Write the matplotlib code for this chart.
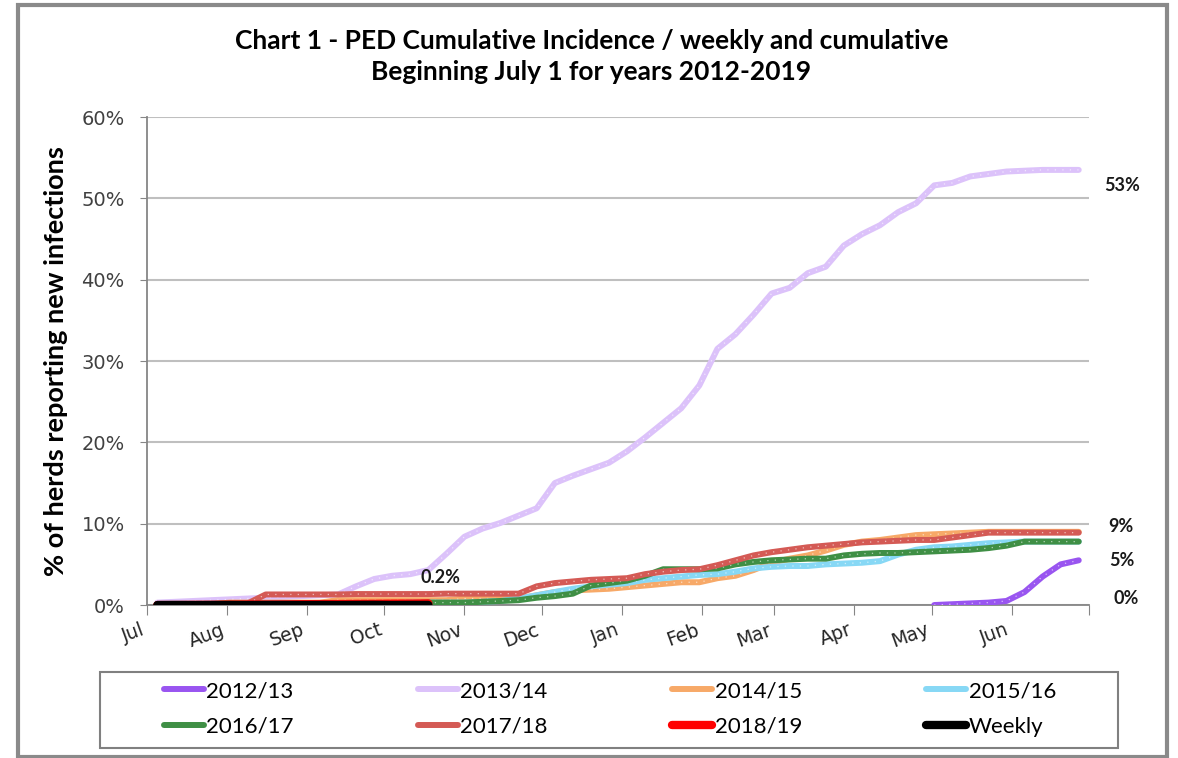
import numpy as np
import matplotlib.pyplot as plt
from matplotlib.patches import Rectangle
from matplotlib.ticker import FuncFormatter

plt.rcParams['font.family'] = ['Lato', 'DejaVu Sans']

nan = np.nan

# x axis: days since July 1, one point per week
weeks = np.arange(52)
days = 4 + 7 * weeks

month_labels = ['Jul', 'Aug', 'Sep', 'Oct', 'Nov', 'Dec',
                'Jan', 'Feb', 'Mar', 'Apr', 'May', 'Jun']
month_days = [0, 31, 62, 92, 123, 153, 184, 215, 243, 274, 304, 335]
year_days = 365

# % of herds, cumulative
pct_2012_13 = [nan] * 43 + [0.0, 0.1, 0.2, 0.3, 0.5, 1.6, 3.5, 5.0, 5.5]
pct_2013_14 = [0.3, 0.4, 0.5, 0.6, 0.7, 0.8, 0.9, 1.0, 1.1, 1.2,
               1.3, 2.3, 3.2, 3.6, 3.8, 4.3, 6.3, 8.4, 9.4, 10.1,
               11.0, 11.9, 15.0, 15.9, 16.7, 17.5, 18.9, 20.6, 22.4, 24.2,
               27.0, 31.5, 33.3, 35.7, 38.3, 39.0, 40.8, 41.6, 44.2, 45.6,
               46.7, 48.3, 49.4, 51.6, 51.9, 52.7, 53.0, 53.3, 53.4, 53.5,
               53.5, 53.5]
pct_2014_15 = [0.1, 0.1, 0.1, 0.1, 0.3, 0.3, 0.3, 0.3, 0.3, 0.3,
               0.6, 0.6, 0.6, 0.6, 0.6, 0.6, 0.6, 0.8, 0.8, 0.8,
               0.8, 1.2, 1.6, 1.8, 1.9, 2.0, 2.2, 2.4, 2.6, 2.8,
               2.8, 3.3, 3.6, 4.3, 5.2, 5.7, 6.1, 6.7, 7.4, 7.8,
               8.0, 8.3, 8.6, 8.7, 8.8, 8.9, 9.0, 9.0, 9.0, 9.0,
               9.0, 9.0]
pct_2015_16 = [0.1, 0.1, 0.1, 0.1, 0.1, 0.1, 0.2, 0.2, 0.2, 0.2,
               0.2, 0.2, 0.2, 0.2, 0.3, 0.3, 0.3, 0.3, 0.4, 0.5,
               0.8, 1.2, 1.6, 2.0, 2.3, 2.5, 2.7, 3.1, 3.3, 3.5,
               3.7, 3.8, 4.1, 4.5, 4.7, 4.8, 4.8, 5.0, 5.1, 5.2,
               5.4, 6.2, 6.8, 7.1, 7.2, 7.4, 7.6, 7.7, 7.8, 7.8,
               7.8, 7.8]
pct_2016_17 = [0.0, 0.0, 0.1, 0.1, 0.1, 0.1, 0.1, 0.1, 0.2, 0.2,
               0.2, 0.2, 0.2, 0.2, 0.2, 0.3, 0.3, 0.3, 0.4, 0.5,
               0.6, 0.9, 1.1, 1.4, 2.4, 2.7, 3.0, 3.6, 4.4, 4.4,
               4.4, 4.5, 5.0, 5.3, 5.5, 5.6, 5.7, 5.7, 6.1, 6.3,
               6.4, 6.4, 6.5, 6.6, 6.7, 6.8, 7.0, 7.3, 7.8, 7.8,
               7.8, 7.8]
pct_2017_18 = [0.0, 0.0, 0.0, 0.0, 0.1, 0.2, 1.3, 1.3, 1.3, 1.3,
               1.3, 1.35, 1.35, 1.35, 1.35, 1.35, 1.4, 1.4, 1.4, 1.4,
               1.4, 2.3, 2.7, 2.9, 3.1, 3.2, 3.3, 3.8, 4.1, 4.3,
               4.4, 4.9, 5.5, 6.1, 6.5, 6.8, 7.1, 7.3, 7.5, 7.7,
               7.8, 7.9, 8.0, 8.0, 8.3, 8.6, 8.9, 8.9, 8.9, 8.9,
               8.9, 8.9]
pct_2018_19 = [0.0, 0.0, 0.02, 0.03, 0.05, 0.06, 0.07, 0.08, 0.1, 0.11,
               0.12, 0.14, 0.15, 0.17, 0.18, 0.2] + [nan] * 36
pct_weekly = [0.0, 0.01, 0.0, 0.01, 0.02, 0.0, 0.01, 0.01, 0.0, 0.01,
              0.0, 0.01, 0.02, 0.0, 0.01, 0.01] + [nan] * 36

series = [
    ('2012/13', pct_2012_13, '#9955F0', 4.3),
    ('2013/14', pct_2013_14, '#DCC2FA', 4.3),
    ('2014/15', pct_2014_15, '#F7A968', 4.3),
    ('2015/16', pct_2015_16, '#87D8F5', 4.3),
    ('2016/17', pct_2016_17, '#3F8F45', 4.3),
    ('2017/18', pct_2017_18, '#D45A55', 4.3),
    ('2018/19', pct_2018_19, '#FF0000', 6.0),
    ('Weekly', pct_weekly, '#000000', 6.0),
]

fig = plt.figure(figsize=(11.78, 7.58), dpi=100)
ax = fig.add_axes([0.1248, 0.2018, 0.7997, 0.6438])

handles = []
for name, vals, col, lw in series:
    vals = np.array(vals, dtype=float)
    ln, = ax.plot(days, vals, color=col, lw=lw, solid_capstyle='round',
                  solid_joinstyle='round', label=name, zorder=3)
    # speckled texture like the original
    if name not in ('2018/19', 'Weekly'):
        ax.plot(days, vals, color='white', lw=0.9, ls=(0, (1, 5)),
                alpha=0.6, zorder=3)
    handles.append(ln)

ax.set_xlim(0, year_days)
ax.set_ylim(0, 60)
ax.set_yticks(np.arange(0, 61, 10))
ax.yaxis.set_major_formatter(FuncFormatter(lambda v, p: '%d%%' % v))
ax.set_xticks(month_days + [year_days])
ax.set_xticklabels(month_labels + [''], rotation=20, ha='right',
                   family='DejaVu Sans', fontsize=13.5, color='#262626')
for lab in ax.get_yticklabels():
    lab.set_family('DejaVu Sans')
ax.tick_params(axis='y', labelsize=14, colors='#404040', length=5,
               color='#868686', pad=11)
ax.tick_params(axis='x', length=7, color='#868686', pad=4)

ax.grid(axis='y', color='#BFBFBF', lw=1.5, zorder=0)
ax.set_axisbelow(True)
for side in ['top', 'right']:
    ax.spines[side].set_visible(False)
for side in ['left', 'bottom']:
    ax.spines[side].set_color('#868686')
    ax.spines[side].set_linewidth(1.3)

ax.set_ylabel('% of herds reporting new infections', fontsize=19.5,
              fontweight='bold', labelpad=10)

# end-of-series value labels
lbl = dict(textcoords='offset points', fontsize=13, fontweight='bold',
           va='center', ha='left', color='#1a1a1a', annotation_clip=False)
ax.annotate('53%', xy=(days[-1], pct_2013_14[-1]), xytext=(18, -11.5), **lbl)
ax.annotate('9%', xy=(days[-1], pct_2017_18[-1]), xytext=(21.6, 4.3), **lbl)
ax.annotate('5%', xy=(days[-1], pct_2012_13[-1]), xytext=(21.6, 0), **lbl)
ax.annotate('0%', xy=(days[-1], 0), xytext=(25, 5), **lbl)
ax.annotate('0.2%', xy=(days[15], pct_2018_19[15]), xytext=(-6, 18.7), **lbl)

fig.text(0.502, 0.925,
         'Chart 1 - PED Cumulative Incidence / weekly and cumulative\n'
         'Beginning July 1 for years 2012-2019',
         ha='center', va='center', fontsize=19, fontweight='bold',
         linespacing=1.34)

# legend fills column by column, so interleave to get the rows right
order = [0, 4, 1, 5, 2, 6, 3, 7]
fig.legend(handles=[handles[i] for i in order], ncol=4, loc='center',
           bbox_to_anchor=(610 / 1178, 1 - 709 / 758), frameon=False,
           fontsize=16, handlelength=1.8, handletextpad=0.1,
           columnspacing=5.6, labelspacing=0.7, borderpad=0)

# legend box and outer chart border
fig.patches.append(Rectangle((0.0849, 0.0132), 0.8642, 0.1003,
                             transform=fig.transFigure, fill=False,
                             edgecolor='#808080', lw=1.5))
fig.patches.append(Rectangle((0.0153, 0.0013), 0.9754, 0.992,
                             transform=fig.transFigure, fill=False,
                             edgecolor='#8a8a8a', lw=3))

fig.savefig('out.png', dpi=100)
